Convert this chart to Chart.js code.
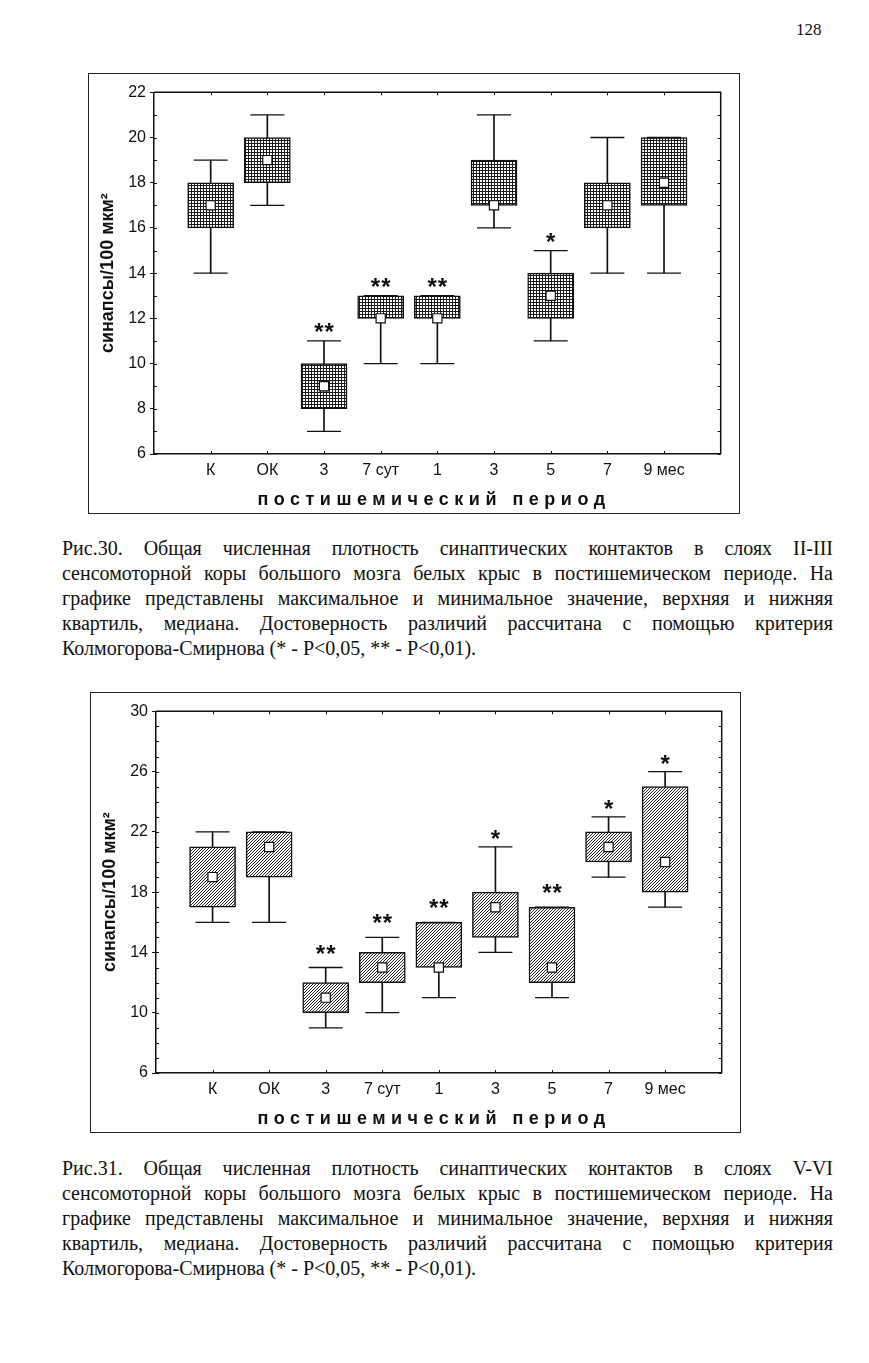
<!DOCTYPE html>
<html><head><meta charset="utf-8">
<script src="https://cdn.jsdelivr.net/npm/chart.js@4"></script>
<style>
body{margin:0;background:#fff;width:869px;height:1363px;position:relative;overflow:hidden;font-family:"Liberation Serif","Times New Roman",serif;color:#111}
.frame{position:absolute;border:1px solid #222;background:#fff}
.frame canvas{display:block}
.cap{position:absolute;left:62px;width:771px;font-size:20px;line-height:25px}
.cap div{text-align:justify;text-align-last:justify}
.cap div.last{text-align-last:left}
#pg{position:absolute;left:796px;top:20px;font-size:17px}
</style></head>
<body>
<div id="pg">128</div>
<div class="frame" style="left:88px;top:73px;width:650px;height:439px"><canvas id="c30" width="650" height="439"></canvas></div>
<div class="cap" style="top:536px">
<div>Рис.30. Общая численная плотность синаптических контактов в слоях II-III</div>
<div>сенсомоторной коры большого мозга белых крыс в постишемическом периоде. На</div>
<div>графике представлены максимальное и минимальное значение, верхняя и нижняя</div>
<div>квартиль, медиана. Достоверность различий рассчитана с помощью критерия</div>
<div class="last">Колмогорова-Смирнова (* - P&lt;0,05, ** - P&lt;0,01).</div>
</div>
<div class="frame" style="left:90px;top:692px;width:649px;height:439px"><canvas id="c31" width="649" height="439"></canvas></div>
<div class="cap" style="top:1156px">
<div>Рис.31. Общая численная плотность синаптических контактов в слоях V-VI</div>
<div>сенсомоторной коры большого мозга белых крыс в постишемическом периоде. На</div>
<div>графике представлены максимальное и минимальное значение, верхняя и нижняя</div>
<div>квартиль, медиана. Достоверность различий рассчитана с помощью критерия</div>
<div class="last">Колмогорова-Смирнова (* - P&lt;0,05, ** - P&lt;0,01).</div>
</div>
<script>
// ---- data ----
const categories = ['К','ОК','3','7 сут','1','3','5','7','9 мес'];
const yTitle = 'синапсы/100 мкм²';
const xTitle = 'постишемический период';

// Рис.30 (слои II-III)
const min30 = [14,17, 7,10,10,16,11,14,14];
const q1_30 = [16,18, 8,12,12,17,12,16,17];
const med30 = [17,19, 9,12,12,17,13,17,18];
const q3_30 = [18,20,10,13,13,19,14,18,20];
const max30 = [19,21,11,13,13,21,15,20,20];
const sig30 = ['','','**','**','**','','*','',''];
const yRange30 = [6,22,2];

// Рис.31 (слои V-VI)
const min31 = [16,16, 9,10,11,14,11,19,17];
const q1_31 = [17,19,10,12,13,15,12,20,18];
const med31 = [19,21,11,13,13,17,13,21,20];
const q3_31 = [21,22,12,14,16,18,17,22,25];
const max31 = [22,22,13,15,16,21,17,23,26];
const sig31 = ['','','**','**','**','*','**','*','*'];
const yRange31 = [6,30,4];

// ---- patterns ----
function gridPattern(){
  const c=document.createElement('canvas'); c.width=3; c.height=3;
  const g=c.getContext('2d'); g.fillStyle='#fff'; g.fillRect(0,0,3,3);
  g.fillStyle='#1a1a1a'; g.fillRect(0,0,3,1); g.fillRect(0,0,1,3);
  return g.createPattern(c,'repeat');
}
function hatchPattern(){
  const c=document.createElement('canvas'); c.width=3; c.height=3;
  const g=c.getContext('2d'); g.fillStyle='#fff'; g.fillRect(0,0,3,3);
  g.strokeStyle='#222'; g.lineWidth=1;
  g.beginPath(); g.moveTo(-1,4); g.lineTo(4,-1); g.moveTo(-1,1); g.lineTo(1,-1); g.moveTo(2,4); g.lineTo(4,2); g.stroke();
  return g.createPattern(c,'repeat');
}

const pad = a => [null, ...a, null];
const INK = '#111';

const decor = {
  id:'decor',
  afterDatasetsDraw(chart, args, o){
    const ctx=chart.ctx, ca=chart.chartArea, x=chart.scales.x, y=chart.scales.y;
    ctx.save();
    ctx.strokeStyle=INK; ctx.lineWidth=1.5;
    ctx.beginPath(); ctx.moveTo(ca.left,ca.top); ctx.lineTo(ca.right,ca.top); ctx.lineTo(ca.right,ca.bottom); ctx.stroke();
    ctx.lineWidth=1;
    ctx.beginPath();
    for(let v=y.min; v<=y.max; v++){
      const py=Math.round(y.getPixelForValue(v))+0.5;
      ctx.moveTo(ca.left,py); ctx.lineTo(ca.left+3,py);
      ctx.moveTo(ca.right,py); ctx.lineTo(ca.right-3,py);
    }
    for(let i=1;i<=categories.length;i++){
      const px=Math.round(x.getPixelForValue(i))+0.5;
      ctx.moveTo(px,ca.top); ctx.lineTo(px,ca.top+3);
      ctx.moveTo(px,ca.bottom); ctx.lineTo(px,ca.bottom-3);
    }
    ctx.stroke();
    // significance marks
    ctx.fillStyle=INK; ctx.font='bold 24px "Liberation Sans", Arial, sans-serif';
    ctx.textAlign='center'; ctx.textBaseline='alphabetic';
    ctx.letterSpacing='1px';
    o.sig.forEach((s,i)=>{
      if(!s) return;
      const px=x.getPixelForValue(i+1), py=y.getPixelForValue(o.max[i]);
      const off = s.length>1 ? o.off2 : o.off1;
      ctx.fillText(s, px+0.5, py-off+14);
    });
    // x axis title with wide letter spacing
    ctx.font='bold 18px "Liberation Sans", Arial, sans-serif';
    ctx.letterSpacing='5.5px';
    ctx.textBaseline='middle';
    ctx.fillText(xTitle, o.titleX+3, o.titleY);
    ctx.restore();
  }
};

function makeChart(id, d){
  const labels=['',...categories,''];
  return new Chart(document.getElementById(id), {
    type:'bar',
    data:{labels, datasets:[
      {type:'bar', label:'размах', data:pad(d.min.map((v,i)=>[v,d.max[i]])), barThickness:1, backgroundColor:INK, grouped:false, order:4},
      {type:'bar', label:'квартили', data:pad(d.q1.map((v,i)=>[v,d.q3[i]])), barThickness:46, backgroundColor:d.pattern, borderColor:INK, borderWidth:1.5, borderSkipped:false, grouped:false, order:3},
      {type:'line', label:'максимум', data:pad(d.max), showLine:false, pointStyle:'line', pointRadius:17, pointBorderColor:INK, borderColor:INK, pointBorderWidth:1.3, order:2},
      {type:'line', label:'минимум', data:pad(d.min), showLine:false, pointStyle:'line', pointRadius:17, pointBorderColor:INK, borderColor:INK, pointBorderWidth:1.3, order:1},
      {type:'line', label:'медиана', data:pad(d.med), showLine:false, pointStyle:'rect', pointRadius:6.5, pointBackgroundColor:'#fff', pointBorderColor:INK, pointBorderWidth:1.2, order:0}
    ]},
    options:{
      responsive:false, animation:false, events:[],
      layout:{padding:{top:15,right:d.right,bottom:0,left:0}},
      plugins:{legend:{display:false}, tooltip:{enabled:false},
        decor:{sig:d.sig, max:d.max, off1:d.off1, off2:d.off2, titleX:d.titleX, titleY:d.titleY}},
      scales:{
        x:{type:'category', offset:false,
          grid:{display:false, drawTicks:false},
          border:{display:true, color:INK, width:1.5},
          ticks:{autoSkip:false, maxRotation:0, padding:7, color:INK, font:{family:'"Liberation Sans", Arial, sans-serif', size:16}},
          afterFit:s=>{s.height=59;}
        },
        y:{min:d.yr[0], max:d.yr[1],
          grid:{display:true, drawOnChartArea:false, drawTicks:true, tickLength:4, color:INK},
          border:{display:true, color:INK, width:1.5},
          ticks:{stepSize:d.yr[2], padding:4, color:INK, font:{family:'"Liberation Sans", Arial, sans-serif', size:16}},
          title:{display:true, text:yTitle, color:INK, padding:{top:8,bottom:0}, font:{family:'"Liberation Sans", Arial, sans-serif', size:18, weight:'bold'}},
          afterFit:s=>{s.width=65;}
        }
      }
    },
    plugins:[decor]
  });
}

makeChart('c30', {min:min30,q1:q1_30,med:med30,q3:q3_30,max:max30,sig:sig30,yr:yRange30,
  pattern:gridPattern(), right:14, off1:15, off2:15, titleX:342, titleY:426});
makeChart('c31', {min:min31,q1:q1_31,med:med31,q3:q3_31,max:max31,sig:sig31,yr:yRange31,
  pattern:hatchPattern(), right:14, off1:14, off2:20, titleX:340, titleY:426});
</script>
</body></html>
